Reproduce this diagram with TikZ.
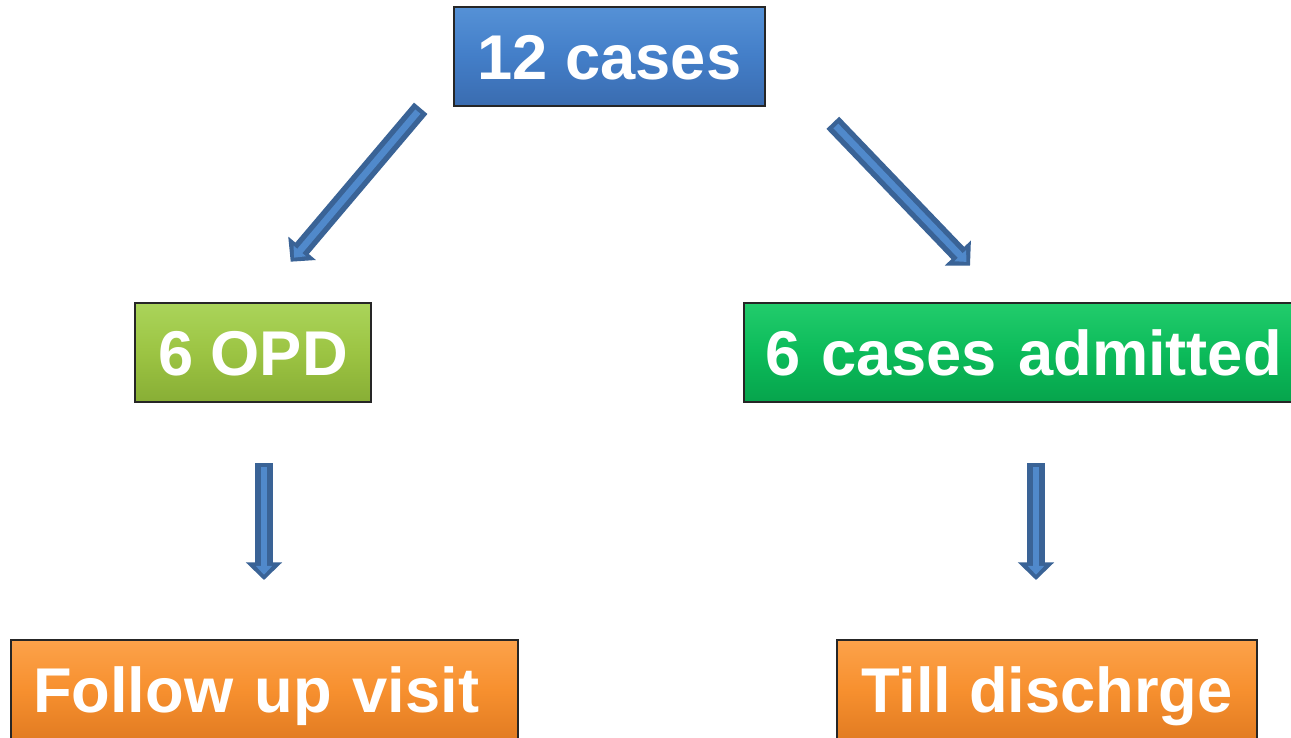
\documentclass[tikz,border=0pt]{standalone}
\usepackage{fontspec}
\setmainfont{Liberation Sans}
\usetikzlibrary{arrows.meta}
\definecolor{bluetop}{HTML}{5591D6}
\definecolor{bluemid}{HTML}{437EC8}
\definecolor{bluebot}{HTML}{3A6CB0}
\definecolor{opdtop}{HTML}{AAD45A}
\definecolor{opdmid}{HTML}{9CC443}
\definecolor{opdbot}{HTML}{88AE35}
\definecolor{admtop}{HTML}{22CC6C}
\definecolor{admmid}{HTML}{0CBB5A}
\definecolor{admbot}{HTML}{06A44C}
\definecolor{ortop}{HTML}{FCA24A}
\definecolor{ormid}{HTML}{F7902F}
\definecolor{orbot}{HTML}{E27C22}
\definecolor{arrdark}{HTML}{3A6396}
\definecolor{arrlight}{HTML}{5089CB}
\tikzset{
  box/.style={draw=black!85, line width=1.1pt, minimum height=1.98cm, inner sep=0pt,
    font=\fontsize{36}{40}\selectfont\bfseries, text=white,
    text height=26pt, text depth=0pt},
  bluebox/.style={box, top color=bluetop, bottom color=bluebot, middle color=bluemid},
  opdbox/.style={box, top color=opdtop, bottom color=opdbot, middle color=opdmid},
  admbox/.style={box, top color=admtop, bottom color=admbot, middle color=admmid},
  orbox/.style={box, top color=ortop, bottom color=orbot, middle color=ormid},
  arrouter/.style={draw=arrdark, line width=10pt,
    -{Triangle[length=10pt, width=20pt, fill=arrdark]}},
  arrinner/.style={draw=arrlight, line width=3.8pt, shorten <=2.5pt, shorten >=3pt,
    -{Triangle[length=5pt, width=9pt, fill=arrlight]}}
}
\begin{document}
\begin{tikzpicture}[x=0.02cm, y=-0.02cm]
\useasboundingbox (0,0) rectangle (1291,737);
\clip (0,0) rectangle (1291,737);
\fill[white] (0,0) rectangle (1291,737);

\node[bluebox, minimum width=6.22cm] (top) at (609.5,56.5) {12 cases};
\node[opdbox, minimum width=4.72cm] (opd) at (253,352.5) {6 OPD};
\node[admbox, minimum width=11.2cm, text width=10.36cm, align=left] (adm) at (1024,352.5) {6 cases admitted};
\node[orbox, minimum width=10.14cm, text width=9.26cm, align=left] (fup) at (264.5,689.5) {Follow up visit};
\node[orbox, minimum width=8.4cm] (dis) at (1047,689.5) {Till dischrge};

\coordinate (l1s) at (420.7,108.3);
\coordinate (l1e) at (290.7,261.7);
\coordinate (r1s) at (832.8,122.8);
\coordinate (r1e) at (970,265.7);
\coordinate (l2s) at (264,463);
\coordinate (l2e) at (264,580);
\coordinate (r2s) at (1036,463);
\coordinate (r2e) at (1036,580);

\foreach \a/\b in {l1s/l1e, r1s/r1e, l2s/l2e, r2s/r2e}{
  \draw[arrouter] (\a) -- (\b);
  \draw[arrinner] (\a) -- (\b);
}
\end{tikzpicture}
\end{document}
